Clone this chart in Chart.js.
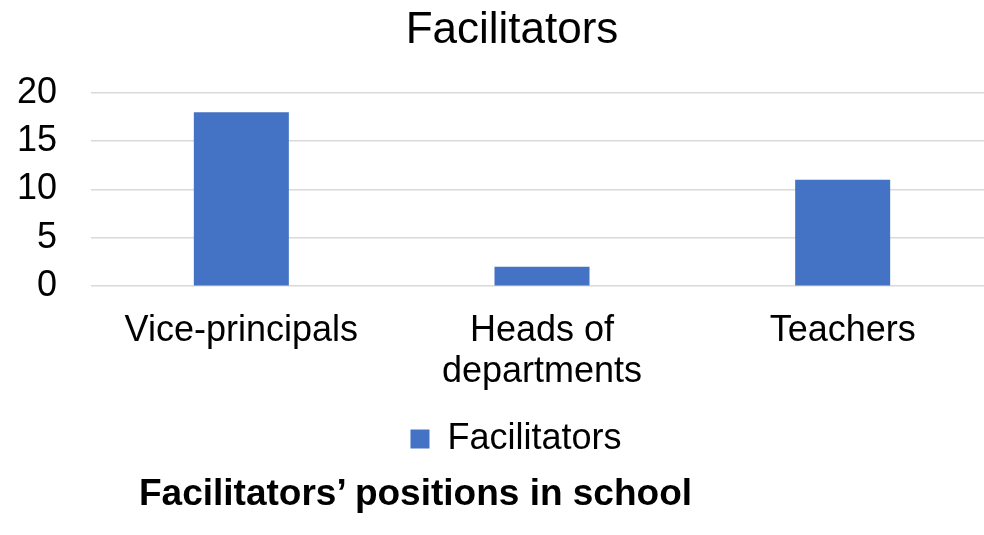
<!DOCTYPE html>
<html>
<head>
<meta charset="utf-8">
<script src="https://cdn.jsdelivr.net/npm/chart.js@4"></script>
<style>
  html, body { margin: 0; padding: 0; background: #fff; overflow: hidden; width: 984px; height: 535px; }
  #wrap { position: absolute; left: 0; top: 0; width: 1022px; height: 473px; }
  #caption {
    position: absolute; left: 139px; top: 474px;
    font: bold 37px "Liberation Sans", Arial, sans-serif; line-height: 37px;
    color: #000; white-space: nowrap;
  }
</style>
</head>
<body>
<div id="wrap"><canvas id="myChart"></canvas></div>
<div id="caption">Facilitators’ positions in school</div>
<script>
/*Bar chart Facilitators' positions*/
const labels = ["Vice-principals", ["Heads of", "departments"], "Teachers"];
const values = [18, 2, 11];
const seriesName = "Facilitators";

const data = {
  labels: labels,
  datasets: [
    {
      label: seriesName,
      data: values,
      backgroundColor: "#4472C4",
      borderWidth: 0,
      categoryPercentage: 1,
      barPercentage: 0.316,
    },
  ],
};

const font = "'Liberation Sans', Arial, sans-serif";

// title and legend sit centred on the whole chart, not on the plot area
const shiftBlocks = {
  id: "shiftBlocks",
  beforeDraw: function (chart) {
    if (chart.titleBlock) {
      chart.titleBlock.left += 7;
      chart.titleBlock.right += 7;
    }
    if (chart.legend) {
      chart.legend.left += 11;
      chart.legend.right += 11;
    }
  },
};

const config = {
  type: "bar",
  data: data,
  options: {
    responsive: true,
    maintainAspectRatio: false,
    animation: false,
    layout: { padding: { left: 17, right: 29, top: 0, bottom: 6 } },
    plugins: {
      title: {
        display: true,
        text: "Facilitators",
        color: "#000",
        font: { family: font, size: 44, weight: "normal" },
        padding: { top: 4, bottom: 36 },
      },
      legend: {
        position: "bottom",
        labels: {
          color: "#000",
          font: { family: font, size: 36 },
          boxWidth: 19,
          boxHeight: 19,
          padding: 12,
        },
      },
      tooltip: { enabled: false },
    },
    scales: {
      x: {
        grid: { display: false },
        border: { display: false },
        ticks: {
          color: "#000",
          font: { family: font, size: 36, lineHeight: 1.15 },
          maxRotation: 0,
          autoSkip: false,
          padding: 16,
        },
      },
      y: {
        beginAtZero: true,
        min: 0,
        max: 20,
        grid: { color: "#d9d9d9", lineWidth: 1.5, drawTicks: false },
        border: { display: false },
        ticks: {
          stepSize: 5,
          color: "#000",
          font: { family: font, size: 36 },
          padding: 34,
        },
        afterFit: function (scale) {
          scale.width = 74;
        },
      },
    },
  },
  plugins: [shiftBlocks],
};
var myChart = new Chart(document.getElementById("myChart"), config);
</script>
</body>
</html>
